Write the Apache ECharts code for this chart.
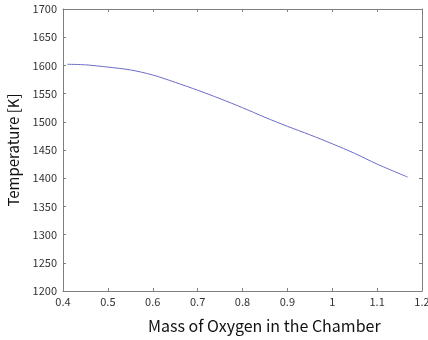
<!DOCTYPE html>
<html>
<head>
<meta charset="utf-8">
<script src="https://cdn.jsdelivr.net/npm/echarts@6/dist/echarts.min.js"></script>
<style>
  html, body { margin: 0; padding: 0; background: #fff; }
  #chart { width: 428px; height: 340px; }
</style>
</head>
<body>
<div id="chart"></div>
<script>
// mass of oxygen (x) and temperature (y)
const massOxygen = [0.41, 0.45, 0.5, 0.55, 0.6, 0.65, 0.7, 0.75, 0.8, 0.85, 0.9, 0.95, 1.0, 1.05, 1.1, 1.168];
const temperature = [1602, 1601, 1597, 1592, 1583, 1570, 1556, 1541, 1525, 1508, 1492, 1477, 1461, 1444, 1425, 1402];

const xName = 'Mass of Oxygen in the Chamber';
const yName = 'Temperature [K]';

const font = '"Noto Sans CJK KR", "Noto Sans", sans-serif';
const axisGray = '#7f7f7f';

const myChart = echarts.init(document.getElementById('chart'));

const frameAxis = {
  axisLine: { show: true, lineStyle: { color: axisGray, width: 1 } },
  axisTick: { show: true, inside: true, length: 3, lineStyle: { color: axisGray } },
  splitLine: { show: false },
};

myChart.setOption({
  animation: false,
  textStyle: { fontFamily: font },
  grid: { left: 63, right: 6, top: 9, bottom: 49, outerBoundsMode: 'none', containLabel: false },
  xAxis: [
    {
      type: 'value',
      min: 0.4,
      max: 1.2,
      interval: 0.1,
      ...frameAxis,
      axisLabel: { color: '#333', fontSize: 11, margin: 5, fontFamily: font },
    },
    {
      type: 'value',
      position: 'top',
      min: 0.4,
      max: 1.2,
      interval: 0.1,
      ...frameAxis,
      axisLabel: { show: false },
    },
  ],
  yAxis: [
    {
      type: 'value',
      min: 1200,
      max: 1700,
      interval: 50,
      ...frameAxis,
      axisLabel: { color: '#333', fontSize: 11, margin: 6, fontFamily: font, formatter: (v) => String(v) },
      name: yName,
      nameLocation: 'middle',
      nameGap: 42,
      nameTextStyle: { fontSize: 15, color: '#111', fontFamily: font },
    },
    {
      type: 'value',
      position: 'right',
      min: 1200,
      max: 1700,
      interval: 50,
      ...frameAxis,
      axisLabel: { show: false },
    },
  ],
  graphic: [
    {
      type: 'text',
      left: 148,
      top: 318,
      style: { text: xName, fontSize: 16, fill: '#111', fontFamily: font },
    },
  ],
  series: [
    {
      type: 'line',
      data: massOxygen.map((m, i) => [m, temperature[i]]),
      showSymbol: false,
      symbol: 'none',
      smooth: 0.3,
      lineStyle: { color: '#6b6bc9', width: 1 },
    },
  ],
});
</script>
</body>
</html>
